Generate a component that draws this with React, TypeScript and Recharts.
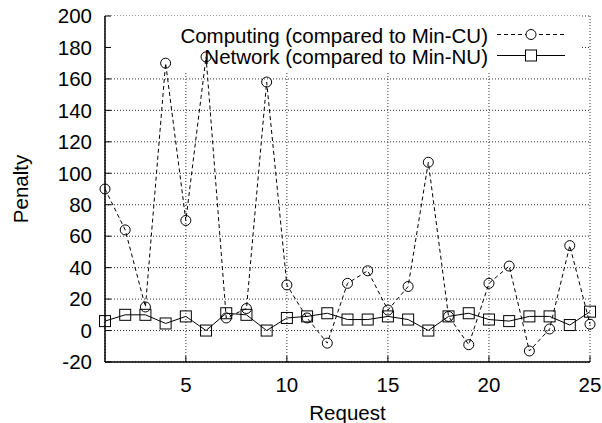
import React from 'react';
import { LineChart, Line, XAxis, YAxis, CartesianGrid, ReferenceArea } from 'recharts';

const requests = [1, 2, 3, 4, 5, 6, 7, 8, 9, 10, 11, 12, 13, 14, 15, 16, 17, 18, 19, 20, 21, 22, 23, 24, 25];
const computing = [90, 64, 15, 170, 70, 174, 8, 14, 158, 29, 8, -8, 30, 38, 13, 28, 107, 9, -9, 30, 41, -13, 1, 54, 4];
const network = [6, 10, 10, 4.5, 9, 0, 11, 10, 0, 8, 9, 11, 7, 7, 9, 7, 0, 9, 11, 7, 6, 9, 9, 3.5, 12];
const xTicks = [5, 10, 15, 20, 25];
const yTicks = [-20, 0, 20, 40, 60, 80, 100, 120, 140, 160, 180, 200];
const seriesNames = ['Computing (compared to Min-CU)', 'Network (compared to Min-NU)'];
const axisTitles = { x: 'Request', y: 'Penalty' };

const data = requests.map((r, i) => ({ req: r, comp: computing[i], net: network[i] }));

const FONT = '"Liberation Sans", Arial, Helvetica, sans-serif';
const FS = 20.5;

const SquareDot = (props: any) => {
  const { cx, cy } = props;
  if (cx == null || cy == null) return null;
  return <rect x={cx - 5.5} y={cy - 5.5} width={11} height={11} fill="none" stroke="#000" strokeWidth={1} />;
};

const CircleDot = (props: any) => {
  const { cx, cy } = props;
  if (cx == null || cy == null) return null;
  return <circle cx={cx} cy={cy} r={5} fill="none" stroke="#000" strokeWidth={1} />;
};

const YLabel = (props: any) => {
  const vb = props.viewBox || {};
  const x = vb.x + 20;
  const y = vb.y + vb.height / 2;
  return (
    <text x={x} y={y} transform={`rotate(-90 ${x} ${y})`} textAnchor="middle" dominantBaseline="central" fontFamily={FONT} fontSize={FS} fill="#000">
      {axisTitles.y}
    </text>
  );
};

const XLabel = (props: any) => {
  const vb = props.viewBox || {};
  const x = vb.x + vb.width / 2;
  const y = vb.y + 50.5;
  return (
    <text x={x} y={y} textAnchor="middle" dominantBaseline="central" fontFamily={FONT} fontSize={FS} fill="#000">
      {axisTitles.x}
    </text>
  );
};

const Legend = () => (
  <div style={{ position: 'absolute', left: 150, top: 25, width: 430, fontFamily: FONT, fontSize: FS, color: '#000' }}>
    {seriesNames.map((name, i) => (
      <div key={name} style={{ display: 'flex', alignItems: 'center', height: 21, lineHeight: '21px' }}>
        <div style={{ width: 338, textAlign: 'right', whiteSpace: 'nowrap' }}>{name}</div>
        <svg width={80} height={21} style={{ marginLeft: 9 }}>
          <line x1={0} y1={9.5} x2={68} y2={9.5} stroke="#000" strokeWidth={1} strokeDasharray={i === 0 ? '4 3' : undefined} />
          {i === 0 ? (
            <circle cx={34} cy={9.5} r={5} fill="#fff" stroke="#000" />
          ) : (
            <rect x={28.5} y={4} width={11} height={11} fill="#fff" stroke="#000" />
          )}
        </svg>
      </div>
    ))}
  </div>
);

export default function App() {
  return (
    <div style={{ position: 'absolute', left: 0, top: 0, width: 602, height: 423, background: '#fff' }}>
      <LineChart width={602} height={423} data={data} margin={{ top: 16, right: 12, bottom: 0, left: 0 }}>
        <CartesianGrid stroke="#333" strokeDasharray="1 2" strokeWidth={1} />
        <ReferenceArea x1={1} x2={24.5} y1={165} y2={200} fill="#fff" fillOpacity={1} stroke="none" />
        <XAxis
          dataKey="req"
          type="number"
          domain={[1, 25]}
          ticks={xTicks}
          height={61}
          tickSize={-6}
          tickMargin={21}
          stroke="#000"
          axisLine={{ stroke: '#000', strokeWidth: 1.5 }}
          tickLine={{ stroke: '#000' }}
          tick={{ fill: '#000', fontSize: FS, fontFamily: FONT }}
          label={<XLabel />}
        />
        <XAxis
          xAxisId="top"
          orientation="top"
          dataKey="req"
          type="number"
          domain={[1, 25]}
          ticks={xTicks}
          height={0}
          tickSize={-6}
          tickMargin={0}
          tickFormatter={() => ''}
          axisLine={{ stroke: '#000', strokeWidth: 1.5 }}
          tickLine={{ stroke: '#000' }}
        />
        <YAxis
          type="number"
          domain={[-20, 200]}
          ticks={yTicks}
          width={105}
          tickSize={-6}
          tickMargin={19}
          axisLine={{ stroke: '#000', strokeWidth: 1.5 }}
          tickLine={{ stroke: '#000' }}
          tick={{ fill: '#000', fontSize: FS, fontFamily: FONT }}
          label={<YLabel />}
        />
        <YAxis
          yAxisId="right"
          orientation="right"
          type="number"
          domain={[-20, 200]}
          ticks={yTicks}
          width={0}
          tickSize={-6}
          tickMargin={0}
          tickFormatter={() => ''}
          axisLine={{ stroke: '#000', strokeWidth: 1.5 }}
          tickLine={{ stroke: '#000' }}
        />
        <Line
          dataKey="comp"
          stroke="#000"
          strokeWidth={1}
          strokeDasharray="4 3"
          dot={<CircleDot />}
          isAnimationActive={false}
        />
        <Line
          dataKey="net"
          stroke="#000"
          strokeWidth={1}
          dot={<SquareDot />}
          isAnimationActive={false}
        />
      </LineChart>
      <Legend />
    </div>
  );
}
